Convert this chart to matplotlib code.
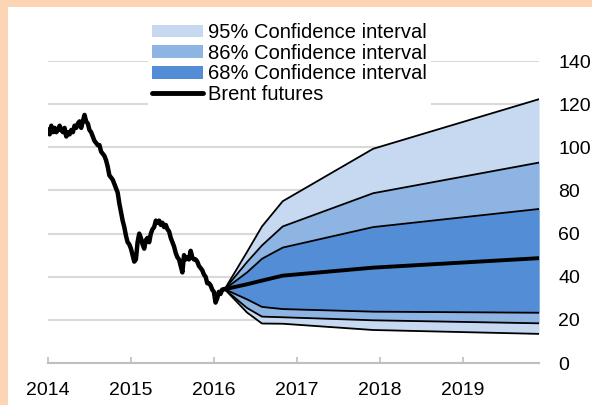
import numpy as np
import matplotlib
matplotlib.use("Agg")
import matplotlib.pyplot as plt
from matplotlib.patches import Rectangle, Patch
from matplotlib.lines import Line2D

plt.rcParams['font.family'] = ['Liberation Sans', 'DejaVu Sans']

# Brent spot, roughly every 0.02 year from Jan 2014 to early Feb 2016
hist_y = [108, 106, 110, 107, 109, 107, 108, 110, 108, 107,
          109, 105, 107, 106, 108, 107, 110, 109, 111, 112,
          109, 112, 115, 112, 111, 108, 107, 105, 103, 102,
          101, 101, 98, 97, 96, 94, 91, 87, 86, 85,
          83, 81, 79, 74, 70, 66, 63, 59, 56, 55,
          53, 50, 47, 48, 56, 60, 58, 55, 53, 57,
          58, 56, 60, 62, 63, 66, 65, 66, 64, 65,
          63, 64, 62, 61, 58, 56, 54, 51, 49, 48,
          45, 42, 50, 48, 49, 48, 52, 49, 48, 48,
          47, 45, 44, 43, 41, 40, 37, 37, 36, 34,
          33, 28, 30, 33, 32, 34, 34.2]
hist_t = np.linspace(2014.0, 2016.12, len(hist_y))

# fan chart from futures
fan_t = [2016.13, 2016.40, 2016.58, 2016.83, 2017.92, 2019.92]
median = [34.2, 36.5, 38.2, 40.5, 44.2, 48.6]
up68 = [34.2, 42.0, 48.3, 53.5, 63.0, 71.4]
lo68 = [34.2, 29.5, 26.0, 25.0, 23.8, 23.3]
up86 = [34.2, 46.8, 54.5, 63.3, 78.7, 92.9]
lo86 = [34.2, 25.5, 21.5, 21.2, 19.8, 18.4]
up95 = [34.2, 51.5, 63.3, 75.0, 99.3, 122.3]
lo95 = [34.2, 23.4, 18.3, 18.2, 15.3, 13.5]

years = [2014, 2015, 2016, 2017, 2018, 2019]
yticks = [0, 20, 40, 60, 80, 100, 120, 140]

c95 = '#C6D9F0'
c86 = '#8DB4E2'
c68 = '#538DD5'

fig = plt.figure(figsize=(5.92, 4.05), dpi=100)
fig.patch.set_facecolor('#FCD5B5')
fig.patches.append(Rectangle((8 / 592, 0), 1, 1 - 7 / 405, transform=fig.transFigure,
                             facecolor='white', edgecolor='none', zorder=-10))

ax = fig.add_axes([48 / 592, 1 - 363 / 405, (539 - 48) / 592, (363 - 61) / 405])
ax.set_facecolor('none')

ax.fill_between(fan_t, lo95, up95, color=c95, lw=0, zorder=2)
ax.fill_between(fan_t, lo86, up86, color=c86, lw=0, zorder=3)
ax.fill_between(fan_t, lo68, up68, color=c68, lw=0, zorder=4)
for s in [up95, up86, up68, lo68, lo86, lo95]:
    ax.plot(fan_t, s, color='black', lw=1.3, zorder=5)
ax.plot(fan_t, median, color='black', lw=2.8, zorder=6)
ax.plot(hist_t, hist_y, color='black', lw=3.2, zorder=6, solid_joinstyle='round')

ax.set_xlim(2014, 2019.92)
ax.set_ylim(0, 140)
ax.set_xticks(years)
ax.set_yticks(yticks)
ax.yaxis.tick_right()
ax.tick_params(axis='y', length=0, pad=14, labelsize=14)
ax.tick_params(axis='x', direction='in', length=4, width=1.2, color='#BFBFBF',
               pad=14, labelsize=14)
for side in ['left', 'right', 'top']:
    ax.spines[side].set_visible(False)
ax.spines['bottom'].set_color('#BFBFBF')
ax.spines['bottom'].set_linewidth(1.5)
ax.set_axisbelow(True)
ax.grid(axis='y', color='#D9D9D9', lw=1.5, zorder=0)

handles = [Patch(facecolor=c95, edgecolor='none'),
           Patch(facecolor=c86, edgecolor='none'),
           Patch(facecolor=c68, edgecolor='none'),
           Line2D([], [], color='black', lw=3.5, solid_capstyle='round')]
labels = ['95% Confidence interval', '86% Confidence interval',
          '68% Confidence interval', 'Brent futures']
leg = fig.legend(handles, labels, loc='upper left', bbox_to_anchor=(148 / 592, 1 - 19 / 405),
                 frameon=True, fancybox=False, framealpha=1, edgecolor='none',
                 fontsize=14.5, handlelength=2.55, handleheight=0.6, handletextpad=0.25,
                 labelspacing=0.08, borderpad=0.2, borderaxespad=0)
leg.get_frame().set_facecolor('white')

fig.savefig('out.png', dpi=100, facecolor=fig.get_facecolor())
